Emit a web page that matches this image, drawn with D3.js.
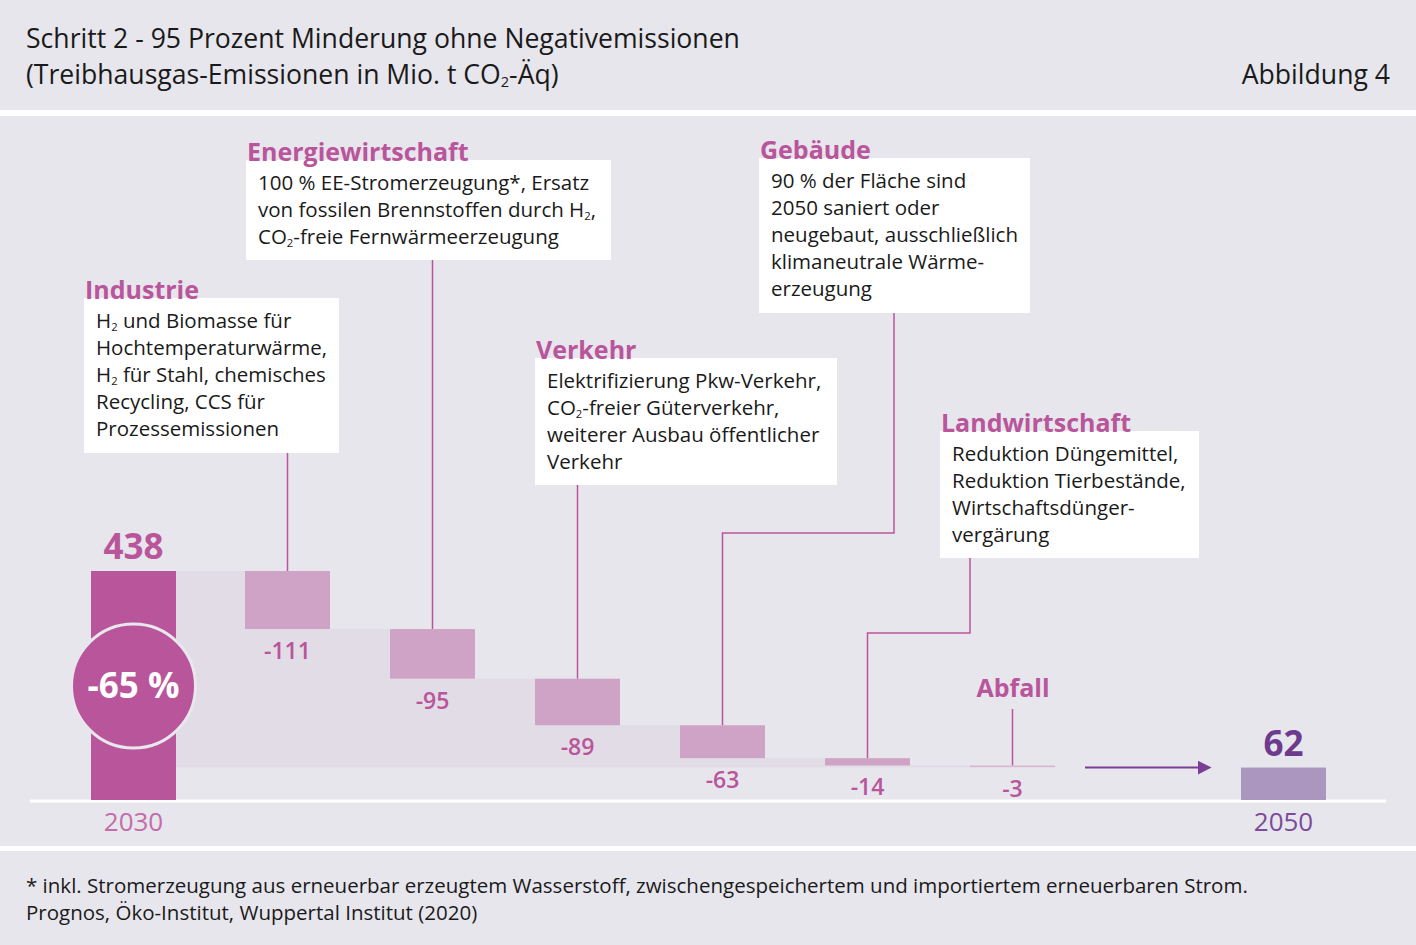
<!DOCTYPE html>
<html>
<head>
<meta charset="utf-8">
<script src="https://cdn.jsdelivr.net/npm/d3@7"></script>
<style>
  body { margin: 0; background: #fff; }
  svg { display: block; font-family: "Open Sans", "Noto Sans", sans-serif; }
</style>
</head>
<body>
<div id="chart"></div>
<script>
// data
const sectors = ["Industrie", "Energiewirtschaft", "Verkehr", "Gebäude", "Landwirtschaft", "Abfall"];
const deltas = [-111, -95, -89, -63, -14, -3];
const years = ["2030", "2050"];
const totals = [438, 62];
const reductionLabel = "-65 %";

// annotation texts, "_2" = subscript
const notes = [
    ["H_2 und Biomasse für", "Hochtemperaturwärme,", "H_2 für Stahl, chemisches", "Recycling, CCS für", "Prozessemissionen"],
    ["100 % EE-Stromerzeugung*, Ersatz", "von fossilen Brennstoffen durch H_2,", "CO_2-freie Fernwärmeerzeugung"],
    ["Elektrifizierung Pkw-Verkehr,", "CO_2-freier Güterverkehr,", "weiterer Ausbau öffentlicher", "Verkehr"],
    ["90 % der Fläche sind", "2050 saniert oder", "neugebaut, ausschließlich", "klimaneutrale Wärme-", "erzeugung"],
    ["Reduktion Düngemittel,", "Reduktion Tierbestände,", "Wirtschaftsdünger-", "vergärung"],
    []
];

// annotation layout (box left, top, width, height, elbow)
const boxes = [
    {x: 84, y: 298, w: 255, h: 155},
    {x: 246, y: 160, w: 365, h: 100},
    {x: 535, y: 358, w: 302, h: 127},
    {x: 759, y: 158, w: 271, h: 155, lineX: 894, elbow: 533},
    {x: 940, y: 431, w: 259, h: 127, lineX: 970, elbow: 633},
    {x: 1013, y: 709, w: 0, h: 0}
];

const W = 1416, H = 945;
const pink = "#b9559a", lightPink = "#cfa3c5", purple = "#6e3a8e";

const svg = d3.select("#chart").append("svg")
    .attr("width", W).attr("height", H);

// panels
svg.append("rect").attr("width", W).attr("height", H).attr("fill", "#ffffff");
svg.append("rect").attr("x", 0).attr("y", 0).attr("width", W).attr("height", 110).attr("fill", "#e7e6ed");
svg.append("rect").attr("x", 0).attr("y", 116).attr("width", W).attr("height", 730).attr("fill", "#e7e6ed");
svg.append("rect").attr("x", 0).attr("y", 851).attr("width", W).attr("height", 94).attr("fill", "#e7e6ed");

function addRich(sel, str) {
    const parts = str.split(/_(\d)/);
    parts.forEach((p, i) => {
        if (i % 2 === 0) {
            if (p.length) sel.append("tspan").text(p).attr("dy", i > 0 ? -3 : null);
        } else {
            sel.append("tspan").text(p).attr("font-size", "0.55em").attr("dy", 3);
        }
    });
}

// header
svg.append("text").attr("x", 26).attr("y", 48)
    .attr("font-size", 26.6).attr("fill", "#1a1a1a")
    .text("Schritt 2 - 95 Prozent Minderung ohne Negativemissionen");
const t2 = svg.append("text").attr("x", 26).attr("y", 84).attr("font-size", 26.6).attr("fill", "#1a1a1a");
addRich(t2, "(Treibhausgas-Emissionen in Mio. t CO_2-Äq)");
svg.append("text").attr("x", 1390).attr("y", 84).attr("text-anchor", "end")
    .attr("font-size", 26.6).attr("fill", "#1a1a1a").text("Abbildung 4");

// scales
const y = d3.scaleLinear().domain([0, totals[0]]).range([800, 571]);
const xs = d3.scaleBand().domain(sectors).range([245, 1055]).paddingInner(60 / 145).paddingOuter(0);
const xe = d3.scaleBand().domain(years).range([91, 1326]).paddingInner(1065 / 1150).paddingOuter(0);
const bw = xs.bandwidth();

// running totals
let run = totals[0];
const steps = sectors.map((s, i) => {
    const from = run;
    run += deltas[i];
    return {name: s, delta: deltas[i], from: from, to: run};
});

// light step area
const areaPts = [{x: xe("2030") + xe.bandwidth(), v: totals[0]}]
    .concat(steps.map(d => ({x: xs(d.name), v: d.to})))
    .concat([{x: xs("Abfall") + bw, v: steps[steps.length - 1].to}]);
svg.append("path")
    .datum(areaPts)
    .attr("fill", "#e1dce6")
    .attr("d", d3.area().curve(d3.curveStepAfter)
        .x(d => d.x).y0(y(totals[1])).y1(d => y(d.v)));

// baseline
svg.append("line").attr("x1", 30).attr("x2", 1386)
    .attr("y1", y(0) + 1).attr("y2", y(0) + 1)
    .attr("stroke", "#ffffff").attr("stroke-width", 3);

// connectors
steps.forEach((d, i) => {
    const b = boxes[i];
    const cx = xs(d.name) + bw / 2;
    let pts;
    if (b.elbow) {
        pts = [[b.lineX, b.y + b.h], [b.lineX, b.elbow], [cx, b.elbow], [cx, y(d.from)]];
    } else if (b.w === 0) {
        pts = [[cx, b.y], [cx, y(d.from)]];
    } else {
        pts = [[cx, b.y + b.h], [cx, y(d.from)]];
    }
    svg.append("path").attr("d", d3.line()(pts))
        .attr("fill", "none").attr("stroke", pink).attr("stroke-width", 1.5);
});

// sector bars
svg.selectAll("rect.step").data(steps).enter().append("rect")
    .attr("class", "step")
    .attr("x", d => xs(d.name))
    .attr("y", d => y(d.from))
    .attr("width", bw)
    .attr("height", d => Math.max(1.5, y(d.to) - y(d.from)))
    .attr("fill", (d, i) => i === steps.length - 1 ? "#d9b5d0" : lightPink);

svg.selectAll("text.delta").data(steps).enter().append("text")
    .attr("class", "delta")
    .attr("x", d => xs(d.name) + bw / 2)
    .attr("y", d => y(d.to) + 30)
    .attr("text-anchor", "middle")
    .attr("font-size", 23).attr("font-weight", 600)
    .attr("fill", pink)
    .text(d => d.delta);

// total bars
const totalColors = [pink, "#ab96c0"];
const labelColors = [pink, purple];
const yearColors = ["#c36da8", "#7a4b9a"];
svg.selectAll("rect.total").data(years).enter().append("rect")
    .attr("class", "total")
    .attr("x", d => xe(d))
    .attr("y", (d, i) => y(totals[i]))
    .attr("width", xe.bandwidth())
    .attr("height", (d, i) => y(0) - y(totals[i]))
    .attr("fill", (d, i) => totalColors[i]);

svg.selectAll("text.totalv").data(years).enter().append("text")
    .attr("class", "totalv")
    .attr("x", d => xe(d) + xe.bandwidth() / 2)
    .attr("y", (d, i) => y(totals[i]) - 12)
    .attr("text-anchor", "middle")
    .attr("font-size", 35).attr("font-weight", 700)
    .attr("fill", (d, i) => labelColors[i])
    .text((d, i) => totals[i]);

svg.selectAll("text.year").data(years).enter().append("text")
    .attr("class", "year")
    .attr("x", d => xe(d) + xe.bandwidth() / 2)
    .attr("y", 831)
    .attr("text-anchor", "middle")
    .attr("font-size", 26)
    .attr("fill", (d, i) => yearColors[i])
    .text(d => d);

// arrow
svg.append("defs").append("marker")
    .attr("id", "arr").attr("viewBox", "0 0 10 10")
    .attr("refX", 1).attr("refY", 5)
    .attr("markerWidth", 14).attr("markerHeight", 14)
    .attr("markerUnits", "userSpaceOnUse")
    .attr("orient", "auto")
    .append("path").attr("d", "M0,0L10,5L0,10Z").attr("fill", "#7a3f94");
svg.append("line")
    .attr("x1", 1085).attr("x2", 1199)
    .attr("y1", y(totals[1])).attr("y2", y(totals[1]))
    .attr("stroke", "#7a3f94").attr("stroke-width", 2)
    .attr("marker-end", "url(#arr)");

// reduction circle
const ccx = xe("2030") + xe.bandwidth() / 2;
svg.append("circle")
    .attr("cx", ccx).attr("cy", 686).attr("r", 62)
    .attr("fill", pink).attr("stroke", "#e9e7ee").attr("stroke-width", 3);
svg.append("text")
    .attr("x", ccx).attr("y", 698)
    .attr("text-anchor", "middle")
    .attr("font-size", 35).attr("font-weight", 700).attr("fill", "#ffffff")
    .text(reductionLabel);

// annotation boxes
steps.forEach((d, i) => {
    const b = boxes[i];
    if (b.w > 0) {
        svg.append("rect").attr("x", b.x).attr("y", b.y)
            .attr("width", b.w).attr("height", b.h).attr("fill", "#ffffff");
        notes[i].forEach((ln, j) => {
            const t = svg.append("text")
                .attr("x", b.x + 12).attr("y", b.y + 30 + j * 27)
                .attr("font-size", 20.5).attr("fill", "#1a1a1a");
            addRich(t, ln);
        });
        svg.append("text").attr("x", b.x + 1).attr("y", b.y + 1)
            .attr("font-size", 25).attr("font-weight", 700).attr("fill", pink)
            .text(d.name);
    } else {
        svg.append("text").attr("x", b.x).attr("y", b.y - 12)
            .attr("text-anchor", "middle")
            .attr("font-size", 25).attr("font-weight", 700).attr("fill", pink)
            .text(d.name);
    }
});

// footer
svg.append("text").attr("x", 26).attr("y", 893).attr("font-size", 20.5).attr("fill", "#1a1a1a")
    .text("* inkl. Stromerzeugung aus erneuerbar erzeugtem Wasserstoff, zwischengespeichertem und importiertem erneuerbaren Strom.");
svg.append("text").attr("x", 26).attr("y", 920).attr("font-size", 20.5).attr("fill", "#1a1a1a")
    .text("Prognos, Öko-Institut, Wuppertal Institut (2020)");
</script>
</body>
</html>
